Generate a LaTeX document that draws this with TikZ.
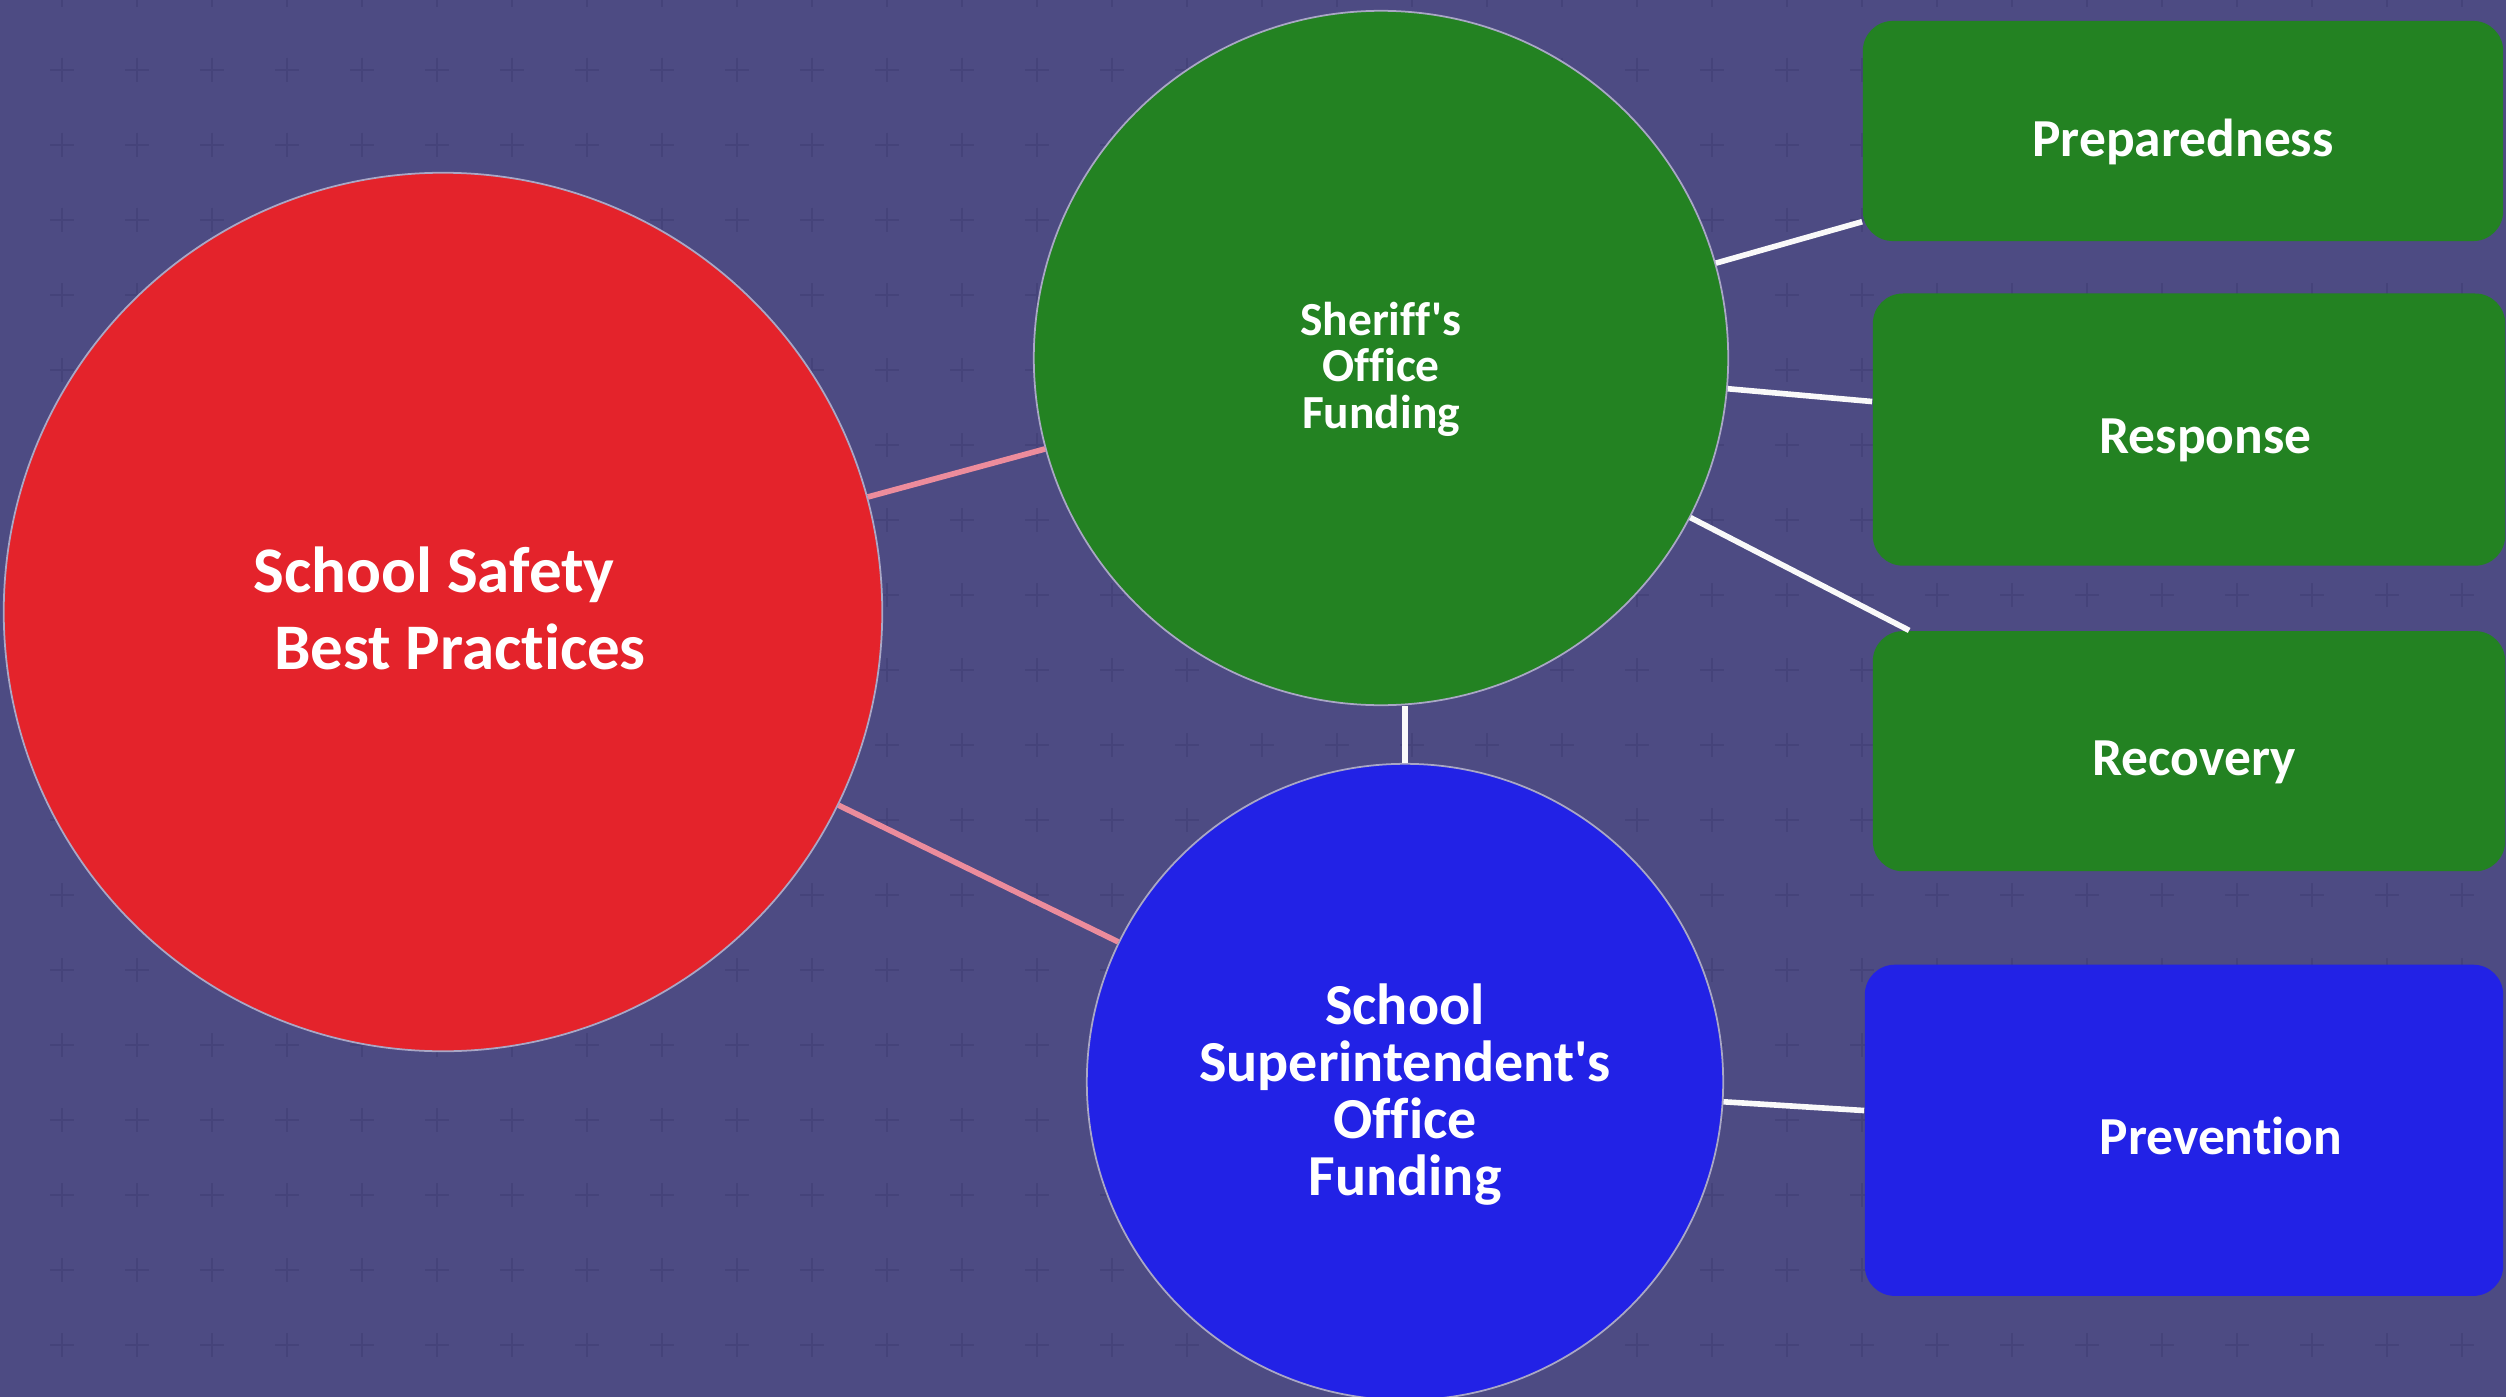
\documentclass[tikz,border=0pt]{standalone}
\usepackage{fontspec}
\setmainfont{Carlito}[Ligatures={TeXOff,NoCommon}]
\usetikzlibrary{positioning,shapes}
\definecolor{bgblue}{HTML}{4D4B83}
\definecolor{plusgray}{HTML}{45437A}
\definecolor{safered}{HTML}{E4232B}
\definecolor{sheriffgreen}{HTML}{238222}
\definecolor{superblue}{HTML}{2222E6}
\definecolor{linkpink}{HTML}{EC8C9C}
\definecolor{rimgray}{HTML}{A9A7C5}
\tikzstyle{bubble}=[circle,draw=rimgray,line width=0.5pt,inner sep=0pt,
  text=white,align=center,font=\bfseries,text depth=0pt]
\tikzstyle{task}=[rectangle,rounded corners=0.3cm,inner sep=0pt,
  text=white,font=\bfseries\fontsize{15.2}{18}\selectfont,
  text height=13.6pt,text depth=0pt]
\tikzstyle{plusmark}=[plusgray,line width=0.8pt]
\newcommand{\newBubble}[4]{\node[bubble,#3](#1)#4{#2};}
\newcommand{\newTask}[4]{\node[task,#3](#1)[#4]{#2};}
\newcommand{\newLink}[3]{\draw[line width=1.6pt,#3] (#1) -- (#2);}

\begin{document}
\begin{tikzpicture}[x=0.01cm,y=-0.01cm]
    \useasboundingbox (0,0) rectangle (2506,1397);
    \fill[bgblue] (0,0) rectangle (2506,1397);
    % faint plus pattern
    \foreach \i in {0,...,32}
      \foreach \j in {-1,...,17}
        \draw[plusmark] ({62+75*\i},{70+75*\j}) +(-12,0) -- +(12,0) +(0,-12) -- +(0,12);
    \newBubble{safety}{School Safety\hspace*{0.18cm}\\\hspace*{0.34cm}Best Practices}
      {fill=safered,minimum size=8.78cm,text height=32.8pt,
       font=\bfseries\fontsize{18.5}{22}\selectfont}{at (443,612)}
    \newBubble{sheriff}{Sheriff's\\Office\\Funding}
      {fill=sheriffgreen,minimum size=6.94cm,text height=40.2pt,
       font=\bfseries\fontsize{13.5}{13.3}\selectfont}{at (1381,358)}
    \newBubble{super}{School\\Superintendent's\\Office\\Funding}
      {fill=superblue,minimum size=6.36cm,text height=64.4pt,
       font=\bfseries\fontsize{16.5}{16.2}\selectfont}{at (1405,1082)}
    \node[task,fill=sheriffgreen,minimum width=6.4cm,minimum height=2.2cm,text height=14.4pt] (prep) at (2183,131) {Preparedness};
    \newTask{resp}{\hspace*{0.33cm}Response}{fill=sheriffgreen,minimum width=6.32cm,minimum height=2.72cm,xshift=0.06cm}{below=0.51cm of prep}
    \newTask{recov}{\hspace*{0.1cm}Recovery}{fill=sheriffgreen,minimum width=6.32cm,minimum height=2.4cm}{below=0.64cm of resp}
    \newTask{prev}{\hspace*{0.74cm}Prevention}{fill=superblue,minimum width=6.38cm,minimum height=3.31cm,xshift=-0.05cm}{below=0.92cm of recov}
    \newLink{safety}{sheriff}{linkpink}
    \newLink{safety}{super}{linkpink}
    \draw[line width=1.6pt,white!95!gray] (super.north) -- (super.north |- sheriff.south);
    \newLink{sheriff}{prep}{white!95!gray}
    \newLink{sheriff}{resp}{white!95!gray}
    \newLink{sheriff}{[xshift=0.37cm]recov.north west}{white!95!gray}
    \newLink{super}{prev}{white!95!gray}
\end{tikzpicture}
\end{document}
